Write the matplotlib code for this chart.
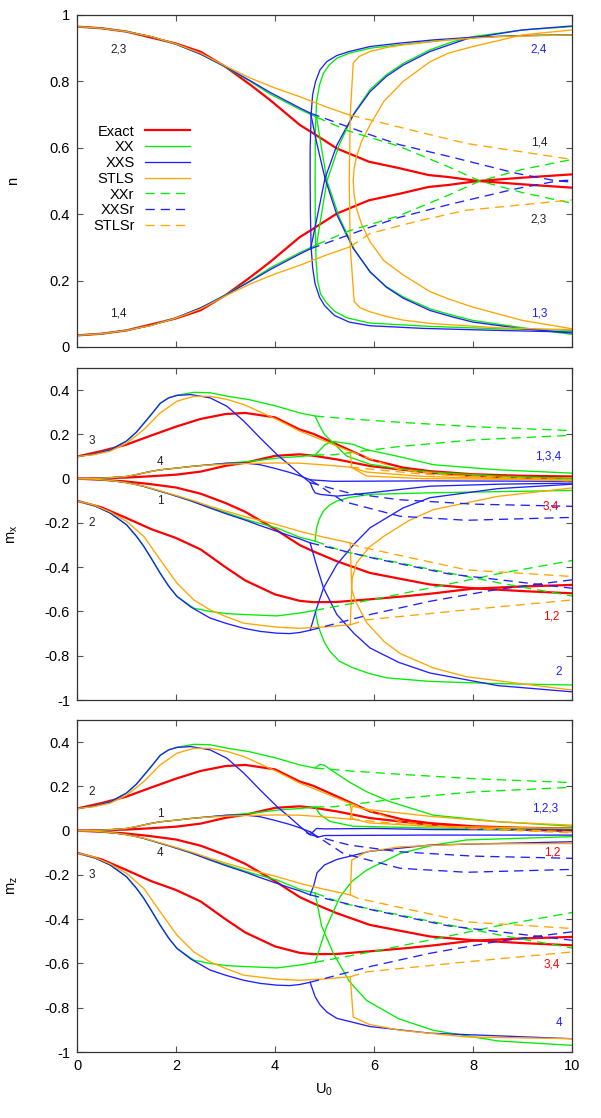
import matplotlib.pyplot as plt
from matplotlib.lines import Line2D
from matplotlib.ticker import FormatStrFormatter

plt.rcParams['font.family'] = ['Liberation Sans', 'DejaVu Sans']
plt.rcParams['mathtext.fontset'] = 'custom'
plt.rcParams['mathtext.rm'] = 'Liberation Sans'
plt.rcParams['mathtext.default'] = 'rm'
plt.rcParams['axes.unicode_minus'] = False

RED, GREEN, BLUE, ORANGE = '#ff0000', '#00ee00', '#2020ff', '#ffa500'

# ---------------- panel 1: n ----------------
u_ex_n = [0, 0.5, 1, 2, 2.5, 3, 3.5, 3.9, 4.5, 4.77, 5.25, 5.9, 6.5, 7.1, 7.5, 8.1, 9, 10]
n_ex_23 = [0.965, 0.96, 0.95, 0.914, 0.889, 0.844, 0.79, 0.744, 0.669, 0.644, 0.598, 0.558, 0.539, 0.518, 0.512, 0.50, 0.49, 0.48]
n_ex_14 = [0.035, 0.04, 0.05, 0.086, 0.111, 0.156, 0.21, 0.256, 0.331, 0.356, 0.402, 0.442, 0.461, 0.482, 0.488, 0.50, 0.51, 0.52]

u_xx_n = [0, 0.5, 1, 1.5, 2, 2.5, 3, 3.5, 3.9, 4.5, 4.84]
n_xx_23 = [0.965, 0.96, 0.95, 0.935, 0.912, 0.882, 0.843, 0.80, 0.762, 0.716, 0.692]
n_xx_14 = [0.035, 0.04, 0.05, 0.065, 0.088, 0.118, 0.157, 0.20, 0.238, 0.284, 0.308]
u_xxs_n = [0, 0.5, 1, 1.5, 2, 2.5, 3, 3.5, 3.9, 4.5, 4.72]
n_xxs_23 = [0.965, 0.96, 0.95, 0.935, 0.912, 0.882, 0.844, 0.802, 0.767, 0.72, 0.704]
n_xxs_14 = [0.035, 0.04, 0.05, 0.065, 0.088, 0.118, 0.156, 0.198, 0.233, 0.28, 0.296]
u_st_n = [0, 0.5, 1, 1.5, 2, 2.5, 3, 3.5, 4, 4.5, 5, 5.52]
n_st_23 = [0.965, 0.96, 0.95, 0.935, 0.913, 0.885, 0.846, 0.81, 0.78, 0.754, 0.725, 0.698]
n_st_14 = [0.035, 0.04, 0.05, 0.065, 0.087, 0.115, 0.154, 0.19, 0.22, 0.246, 0.275, 0.302]

# broken-symmetry branches
n_xx_c = ([10, 9, 8, 7.13, 6.5, 5.92, 5.5, 5.25, 5.1, 4.98, 4.9, 4.84, 4.815, 4.81, 4.815, 4.83, 4.86, 4.92, 5.04, 5.2, 5.45, 5.92, 7.13, 8.5, 10],
          [0.94, 0.938, 0.932, 0.92, 0.91, 0.9, 0.885, 0.87, 0.85, 0.825, 0.79, 0.74, 0.65, 0.5, 0.35, 0.26, 0.2, 0.16, 0.133, 0.108, 0.088, 0.072, 0.062, 0.055, 0.05])
n_xx_dn = ([4.84, 4.95, 5.05, 5.3, 5.6, 5.92, 6.25, 6.6, 7.13, 7.6, 8, 9, 10],
           [0.692, 0.59, 0.5, 0.39, 0.295, 0.225, 0.182, 0.15, 0.115, 0.095, 0.08, 0.058, 0.038])
n_xx_up = ([4.84, 4.95, 5.05, 5.3, 5.6, 5.92, 6.25, 6.6, 7.13, 7.6, 8, 9, 10],
           [0.308, 0.41, 0.5, 0.61, 0.705, 0.775, 0.82, 0.855, 0.895, 0.92, 0.935, 0.955, 0.965])
n_xxs_c = ([10, 9, 8, 7.2, 6.5, 5.92, 5.5, 5.25, 5.05, 4.91, 4.82, 4.76, 4.73, 4.71, 4.71, 4.715, 4.73, 4.76, 4.81, 4.9, 5.0, 5.2, 5.5, 5.92, 7, 8.5, 10],
           [0.94, 0.938, 0.933, 0.925, 0.915, 0.905, 0.89, 0.878, 0.86, 0.835, 0.8, 0.76, 0.7, 0.6, 0.5, 0.4, 0.3, 0.24, 0.19, 0.15, 0.125, 0.095, 0.075, 0.064, 0.056, 0.05, 0.045])
n_xxs_dn = ([4.72, 4.85, 5.01, 5.25, 5.58, 5.92, 6.25, 6.59, 7.13, 7.6, 8, 9, 10],
            [0.704, 0.61, 0.508, 0.398, 0.297, 0.227, 0.18, 0.147, 0.11, 0.09, 0.075, 0.055, 0.042])
n_xxs_up = ([4.72, 4.85, 5.01, 5.25, 5.58, 5.92, 6.25, 6.59, 7.13, 7.87, 9, 10],
            [0.296, 0.39, 0.508, 0.608, 0.699, 0.769, 0.815, 0.849, 0.89, 0.928, 0.955, 0.967])
n_st_top = ([5.52, 5.58, 5.7, 5.92, 6.25, 6.59, 7.5, 8.5, 10], [0.698, 0.855, 0.875, 0.89, 0.902, 0.91, 0.925, 0.935, 0.94])
n_st_bot = ([5.52, 5.5, 5.52, 5.6, 5.72, 5.92, 6.25, 6.59, 7.13, 8.5, 10],
            [0.698, 0.5, 0.302, 0.137, 0.118, 0.106, 0.092, 0.081, 0.071, 0.058, 0.052])
n_st_c = ([10, 9, 8, 7.5, 7.13, 6.59, 6.2, 5.92, 5.75, 5.65, 5.6, 5.58, 5.6, 5.65, 5.75, 5.92, 6.2, 6.59, 7.13, 7.5, 8, 9, 10],
          [0.955, 0.94, 0.905, 0.885, 0.859, 0.80, 0.74, 0.669, 0.62, 0.575, 0.54, 0.5, 0.458, 0.415, 0.37, 0.317, 0.26, 0.217, 0.167, 0.145, 0.12, 0.08, 0.055])

# restricted (symmetric) continuations
u_xxr_n = [4.84, 5.5, 6.5, 7.5, 8.14, 9, 10]
n_xxr_23 = [0.692, 0.65, 0.605, 0.543, 0.5, 0.465, 0.433]
n_xxr_14 = [0.308, 0.35, 0.395, 0.457, 0.5, 0.535, 0.565]
u_xxsr_n = [4.72, 5.85, 6.5, 7.54, 8.88, 9.7, 10]
n_xxsr_23 = [0.704, 0.643, 0.61, 0.573, 0.523, 0.5, 0.497]
n_xxsr_14 = [0.296, 0.357, 0.39, 0.43, 0.477, 0.5, 0.503]
u_str_n = [5.52, 5.92, 6.9, 7.87, 10]
n_str_23 = [0.698, 0.684, 0.648, 0.613, 0.565]
n_str_14 = [0.302, 0.342, 0.38, 0.412, 0.443]

# ---------------- panels 2 and 3: m_x, m_z ----------------
# curves a (starts 0.1, up), b (starts 0, up), c (starts 0, down), d (starts -0.1, down)
u_ex_m = [0, 0.5, 1, 1.5, 2, 2.5, 3, 3.4, 4, 4.5, 4.77, 5.25, 5.92, 6.59, 7.13, 8, 9, 10]
m_ex_a = [0.1, 0.125, 0.154, 0.195, 0.235, 0.27, 0.292, 0.297, 0.277, 0.222, 0.203, 0.155, 0.087, 0.05, 0.034, 0.02, 0.013, 0.01]
m_ex_b = [0, 0.002, 0.005, 0.011, 0.018, 0.032, 0.058, 0.072, 0.103, 0.11, 0.104, 0.087, 0.057, 0.04, 0.027, 0.012, 0.004, -0.002]
m_ex_c = [0, -0.005, -0.013, -0.025, -0.04, -0.068, -0.11, -0.15, -0.228, -0.30, -0.328, -0.373, -0.426, -0.455, -0.478, -0.495, -0.508, -0.518]
m_ex_d = [-0.1, -0.13, -0.178, -0.228, -0.268, -0.32, -0.40, -0.46, -0.523, -0.552, -0.558, -0.557, -0.545, -0.532, -0.52, -0.497, -0.487, -0.48]

u_xx_m = [0, 0.33, 0.67, 1.0, 1.2, 1.35, 1.5, 1.68, 1.85, 2.02, 2.36, 2.69, 3.03, 3.5, 4.04, 4.5, 4.81]
m_xx_a = [0.1, 0.11, 0.13, 0.17, 0.21, 0.25, 0.29, 0.34, 0.365, 0.377, 0.39, 0.388, 0.373, 0.356, 0.327, 0.297, 0.283]
m_xx_b = [0, 0.001, 0.004, 0.01, 0.018, 0.026, 0.033, 0.04, 0.044, 0.048, 0.057, 0.063, 0.07, 0.078, 0.093, 0.1, 0.107]
m_xx_c = [0, -0.002, -0.008, -0.018, -0.027, -0.035, -0.045, -0.057, -0.068, -0.08, -0.105, -0.13, -0.155, -0.19, -0.223, -0.265, -0.282]
m_xx_d = [-0.1, -0.12, -0.155, -0.208, -0.26, -0.306, -0.36, -0.427, -0.485, -0.532, -0.585, -0.6, -0.61, -0.615, -0.62, -0.607, -0.595]

u_xxs_m = [0, 0.33, 0.67, 1.0, 1.2, 1.35, 1.5, 1.68, 1.85, 2.02, 2.3, 2.69, 3.03, 3.37, 3.7, 4.04, 4.3, 4.5, 4.71]
m_xxs_a = [0.1, 0.11, 0.13, 0.17, 0.21, 0.25, 0.29, 0.34, 0.365, 0.376, 0.38, 0.365, 0.327, 0.26, 0.184, 0.109, 0.06, 0.02, -0.018]
m_xxs_b = [0, 0.001, 0.004, 0.01, 0.018, 0.026, 0.033, 0.04, 0.044, 0.048, 0.055, 0.063, 0.07, 0.071, 0.063, 0.044, 0.028, 0.013, -0.005]
m_xxs_c = [0, -0.002, -0.008, -0.018, -0.027, -0.035, -0.045, -0.057, -0.068, -0.08, -0.1, -0.133, -0.16, -0.185, -0.212, -0.238, -0.258, -0.272, -0.29]
m_xxs_d = [-0.1, -0.12, -0.155, -0.208, -0.26, -0.306, -0.36, -0.427, -0.485, -0.532, -0.58, -0.63, -0.655, -0.676, -0.69, -0.698, -0.70, -0.695, -0.685]

u_st_m = [0, 0.33, 0.67, 1.0, 1.35, 1.68, 2.02, 2.36, 2.69, 3.03, 3.37, 4.04, 4.5, 5, 5.52]
m_st_a = [0.1, 0.108, 0.124, 0.16, 0.222, 0.297, 0.35, 0.372, 0.372, 0.358, 0.335, 0.267, 0.215, 0.17, 0.123]
m_st_b = [0, 0.001, 0.004, 0.01, 0.026, 0.04, 0.048, 0.056, 0.062, 0.066, 0.068, 0.071, 0.07, 0.062, 0.052]
m_st_c = [0, -0.002, -0.008, -0.018, -0.034, -0.055, -0.077, -0.1, -0.125, -0.148, -0.17, -0.208, -0.238, -0.265, -0.29]
m_st_d = [-0.1, -0.118, -0.15, -0.193, -0.261, -0.366, -0.472, -0.548, -0.593, -0.625, -0.653, -0.671, -0.676, -0.67, -0.66]

# m_x after the transition
mx_xx_a = ([4.81, 4.9, 5.0, 5.18, 5.45, 5.92, 6.59, 7.13, 8.5, 10], [0.283, 0.24, 0.2, 0.16, 0.102, 0.065, 0.042, 0.03, 0.012, 0.0])
mx_xx_b = ([4.81, 4.91, 5.01, 5.18, 5.58, 5.85, 6.5, 7.2, 8.5, 10], [0.107, 0.13, 0.154, 0.168, 0.155, 0.131, 0.1, 0.063, 0.04, 0.025])
mx_xx_c = ([4.81, 4.84, 4.9, 4.98, 5.1, 5.25, 5.5, 5.92, 7.13, 10], [-0.282, -0.222, -0.18, -0.146, -0.12, -0.101, -0.085, -0.071, -0.064, -0.053])
mx_xx_d = ([4.81, 4.86, 4.91, 5.0, 5.11, 5.3, 5.58, 5.9, 6.26, 7.13, 8.5, 10], [-0.595, -0.65, -0.69, -0.74, -0.78, -0.825, -0.855, -0.88, -0.9, -0.916, -0.926, -0.932])
mx_xxs_a = ([4.71, 4.76, 4.81, 4.91, 5.25, 5.92, 7.13, 8.5, 10], [-0.018, -0.045, -0.064, -0.071, -0.079, -0.064, -0.034, -0.025, -0.02])
mx_xxs_b = ([4.71, 5.18, 7.13, 10], [-0.005, -0.012, -0.01, -0.012])
mx_xxs_c = ([4.71, 4.85, 4.98, 5.25, 5.6, 5.92, 6.5, 7.13, 8.5, 10], [-0.29, -0.4, -0.494, -0.614, -0.7, -0.765, -0.83, -0.878, -0.935, -0.963])
mx_xxs_d = ([4.71, 4.85, 4.98, 5.25, 5.6, 5.92, 6.59, 7.13, 8.5, 10], [-0.685, -0.58, -0.494, -0.388, -0.295, -0.222, -0.132, -0.086, -0.045, -0.025])
mx_st_a = ([5.52, 5.55, 5.85, 7, 10], [0.123, 0.05, 0.012, 0.0, -0.005])
mx_st_b = ([5.52, 5.85, 7, 10], [0.052, 0.03, 0.01, -0.01])
mx_st_c = ([5.52, 5.55, 5.62, 5.85, 6.2, 6.53, 7.2, 7.87, 10], [-0.29, -0.5, -0.55, -0.65, -0.735, -0.79, -0.855, -0.895, -0.955])
mx_st_d = ([5.52, 5.56, 5.65, 5.9, 6.2, 6.7, 7.2, 8.5, 10], [-0.66, -0.45, -0.38, -0.31, -0.26, -0.19, -0.14, -0.08, -0.042])

# m_z after the transition
mz_xx_a = ([4.81, 4.91, 5.0, 5.18, 5.5, 5.85, 6.32, 7.2, 8.55, 10], [0.283, 0.30, 0.295, 0.267, 0.22, 0.176, 0.131, 0.07, 0.04, 0.02])
mz_xx_b = ([4.81, 4.91, 5.11, 5.58, 7.13, 10], [0.107, 0.073, 0.042, 0.02, 0.012, 0.005])
mz_xx_c = ([4.81, 4.94, 5.18, 5.5, 5.85, 6.5, 7.2, 8.5, 10], [-0.282, -0.43, -0.555, -0.68, -0.767, -0.85, -0.902, -0.95, -0.97])
mz_xx_d = ([4.81, 5.04, 5.31, 5.55, 5.85, 6.53, 7.2, 7.87, 10], [-0.595, -0.435, -0.3, -0.23, -0.178, -0.103, -0.065, -0.042, -0.027])
mz_xxs_a = ([4.64, 4.71, 4.84, 5.0, 6, 7.13, 10], [-0.01, -0.018, 0.01, 0.008, 0.01, 0.005, 0.003])
mz_xxs_b = ([4.71, 4.85, 5.0, 7, 10], [-0.005, -0.03, -0.022, -0.02, -0.02])
mz_xxs_c = ([4.71, 4.78, 4.85, 5.0, 5.25, 5.92, 7.13, 10], [-0.29, -0.25, -0.19, -0.155, -0.13, -0.093, -0.065, -0.05])
mz_xxs_d = ([4.71, 4.81, 4.91, 5.05, 5.25, 5.92, 7.13, 10], [-0.685, -0.75, -0.787, -0.82, -0.848, -0.885, -0.915, -0.94])
mz_st_a = ([5.52, 5.56, 5.9, 7.13, 10], [0.123, 0.055, 0.035, 0.02, 0.01])
mz_st_b = ([5.52, 5.56, 5.9, 7.13, 8.5, 10], [0.052, 0.11, 0.095, 0.065, 0.04, 0.025])
mz_st_c = ([5.52, 5.55, 5.85, 6.53, 7.87, 10], [-0.29, -0.133, -0.095, -0.073, -0.06, -0.058])
mz_st_d = ([5.52, 5.58, 5.9, 6.53, 7.87, 10], [-0.66, -0.842, -0.875, -0.902, -0.932, -0.94])

# restricted continuations (same in m_x and m_z)
m_xxr_a = ([4.81, 5.5, 6.5, 8, 10], [0.283, 0.27, 0.255, 0.235, 0.217])
m_xxr_b = ([4.81, 5.18, 6.5, 8, 10], [0.107, 0.108, 0.145, 0.175, 0.196])
m_xxr_c = ([4.81, 5.38, 6.5, 7.2, 8.55, 10], [-0.282, -0.329, -0.38, -0.412, -0.472, -0.53])
m_xxr_d = ([4.81, 6, 7.13, 8.5, 10], [-0.595, -0.545, -0.494, -0.43, -0.37])
m_xxsr_a = ([4.71, 5.5, 6.5, 8, 10], [-0.018, -0.065, -0.095, -0.115, -0.125])
m_xxsr_b = ([4.71, 5.38, 6.53, 7.87, 10], [-0.005, -0.103, -0.17, -0.188, -0.175])
m_xxsr_c = ([4.71, 6, 7.5, 10], [-0.29, -0.36, -0.43, -0.495])
m_xxsr_d = ([4.71, 5.92, 7.13, 8.5, 10], [-0.685, -0.614, -0.554, -0.5, -0.457])
m_str_a = ([5.52, 6.53, 7.87, 10], [0.123, 0.04, 0.01, -0.01])
m_str_b = ([5.52, 7, 10], [0.052, 0.02, -0.005])
m_str_c = ([5.52, 5.68, 7.87, 10], [-0.29, -0.306, -0.412, -0.442])
m_str_d = ([5.52, 5.85, 8, 10], [-0.66, -0.638, -0.59, -0.548])

DASH = (0, (7, 4.5))


def draw(ax, u, v, color, lw=0.95, dashed=False):
    ax.plot(u, v, color=color, lw=lw, linestyle=DASH if dashed else '-',
            solid_joinstyle='round', dash_capstyle='butt')


def style(ax, ylim, yticks):
    ax.set_xlim(0, 10)
    ax.set_ylim(*ylim)
    ax.set_xticks(range(0, 11, 2))
    ax.set_yticks(yticks)
    ax.yaxis.set_major_formatter(FormatStrFormatter('%g'))
    ax.tick_params(direction='in', top=True, right=True, length=4, width=0.8,
                   color='#555555', labelsize=10.5, pad=5)
    for s in ax.spines.values():
        s.set_color('#333333')
        s.set_linewidth(0.9)


fig = plt.figure(figsize=(6.01, 11.18), dpi=100)
W = 1118.0
ax1 = fig.add_axes([77 / 601, (W - 347) / W, 495 / 601, 332 / W])
ax2 = fig.add_axes([77 / 601, (W - 700) / W, 495 / 601, 332 / W])
ax3 = fig.add_axes([77 / 601, (W - 1052) / W, 495 / 601, 332 / W])

# ---- n ----
draw(ax1, u_ex_n, n_ex_23, RED, 1.6)
draw(ax1, u_ex_n, n_ex_14, RED, 1.6)
for curve in [(u_xx_n, n_xx_23), (u_xx_n, n_xx_14), n_xx_c, n_xx_dn, n_xx_up]:
    draw(ax1, *curve, GREEN)
for curve in [(u_xxs_n, n_xxs_23), (u_xxs_n, n_xxs_14), n_xxs_c, n_xxs_dn, n_xxs_up]:
    draw(ax1, *curve, BLUE)
for curve in [(u_st_n, n_st_23), (u_st_n, n_st_14), n_st_top, n_st_bot, n_st_c]:
    draw(ax1, *curve, ORANGE)
draw(ax1, u_xxr_n, n_xxr_23, GREEN, dashed=True)
draw(ax1, u_xxr_n, n_xxr_14, GREEN, dashed=True)
draw(ax1, u_xxsr_n, n_xxsr_23, BLUE, dashed=True)
draw(ax1, u_xxsr_n, n_xxsr_14, BLUE, dashed=True)
draw(ax1, u_str_n, n_str_23, ORANGE, dashed=True)
draw(ax1, u_str_n, n_str_14, ORANGE, dashed=True)
style(ax1, (0, 1), [0, 0.2, 0.4, 0.6, 0.8, 1])
ax1.set_xticklabels([])
ax1.set_ylabel('n', fontsize=10.5)

# ---- m_x and m_z ----
post = {
    ax2: ([mx_xx_a, mx_xx_b, mx_xx_c, mx_xx_d],
          [mx_xxs_a, mx_xxs_b, mx_xxs_c, mx_xxs_d],
          [mx_st_a, mx_st_b, mx_st_c, mx_st_d]),
    ax3: ([mz_xx_a, mz_xx_b, mz_xx_c, mz_xx_d],
          [mz_xxs_a, mz_xxs_b, mz_xxs_c, mz_xxs_d],
          [mz_st_a, mz_st_b, mz_st_c, mz_st_d]),
}
for ax in (ax2, ax3):
    for v in (m_ex_a, m_ex_b, m_ex_c, m_ex_d):
        draw(ax, u_ex_m, v, RED, 1.6)
    xx_post, xxs_post, st_post = post[ax]
    for v in (m_xx_a, m_xx_b, m_xx_c, m_xx_d):
        draw(ax, u_xx_m, v, GREEN)
    for curve in xx_post:
        draw(ax, *curve, GREEN)
    for v in (m_xxs_a, m_xxs_b, m_xxs_c, m_xxs_d):
        draw(ax, u_xxs_m, v, BLUE)
    for curve in xxs_post:
        draw(ax, *curve, BLUE)
    for v in (m_st_a, m_st_b, m_st_c, m_st_d):
        draw(ax, u_st_m, v, ORANGE)
    for curve in st_post:
        draw(ax, *curve, ORANGE)
    for curve in (m_xxr_a, m_xxr_b, m_xxr_c, m_xxr_d):
        draw(ax, *curve, GREEN, dashed=True)
    for curve in (m_xxsr_a, m_xxsr_b, m_xxsr_c, m_xxsr_d):
        draw(ax, *curve, BLUE, dashed=True)
    for curve in (m_str_a, m_str_b, m_str_c, m_str_d):
        draw(ax, *curve, ORANGE, dashed=True)
    style(ax, (-1, 0.5), [-1, -0.8, -0.6, -0.4, -0.2, 0, 0.2, 0.4])

ax2.set_xticklabels([])
ax2.set_ylabel('m$_x$', fontsize=10.5)
ax3.set_ylabel('m$_z$', fontsize=10.5)
ax3.set_xlabel('U$_0$', fontsize=10.5, labelpad=6)
for ax in (ax1, ax2, ax3):
    ax.yaxis.set_label_coords(-0.115, 0.5)

# ---- site labels ----
FS = 8.5
lab = dict(fontsize=FS, ha='center', va='center')
ax1.text(0.83, 0.895, '2,3', color='#222222', **lab)
ax1.text(0.83, 0.102, '1,4', color='#222222', **lab)
ax1.text(9.33, 0.895, '2,4', color=BLUE, **lab)
ax1.text(9.33, 0.617, '1,4', color='#222222', **lab)
ax1.text(9.33, 0.383, '2,3', color='#222222', **lab)
ax1.text(9.33, 0.102, '1,3', color=BLUE, **lab)

ax2.text(0.3, 0.172, '3', color='#222222', **lab)
ax2.text(1.68, 0.077, '4', color='#222222', **lab)
ax2.text(1.68, -0.1, '1', color='#222222', **lab)
ax2.text(0.3, -0.2, '2', color='#222222', **lab)
ax2.text(9.52, 0.1, '1,3,4', color=BLUE, **lab)
ax2.text(9.58, -0.127, '3,4', color=RED, **lab)
ax2.text(9.58, -0.624, '1,2', color=RED, **lab)
ax2.text(9.74, -0.873, '2', color=BLUE, **lab)

ax3.text(0.3, 0.175, '2', color='#222222', **lab)
ax3.text(1.68, 0.076, '1', color='#222222', **lab)
ax3.text(1.68, -0.1, '4', color='#222222', **lab)
ax3.text(0.3, -0.2, '3', color='#222222', **lab)
ax3.text(9.45, 0.1, '1,2,3', color=BLUE, **lab)
ax3.text(9.6, -0.1, '1,2', color=RED, **lab)
ax3.text(9.6, -0.603, '3,4', color=RED, **lab)
ax3.text(9.74, -0.87, '4', color=BLUE, **lab)

# ---- legend ----
handles = [
    Line2D([], [], color=RED, lw=1.6),
    Line2D([], [], color=GREEN, lw=0.95),
    Line2D([], [], color=BLUE, lw=0.95),
    Line2D([], [], color=ORANGE, lw=0.95),
    Line2D([], [], color=GREEN, lw=0.95, linestyle=DASH),
    Line2D([], [], color=BLUE, lw=0.95, linestyle=DASH),
    Line2D([], [], color=ORANGE, lw=0.95, linestyle=DASH),
]
names = ['Exact', 'XX', 'XXS', 'STLS', 'XXr', 'XXSr', 'STLSr']
ax1.legend(handles, names, loc='upper right', bbox_to_anchor=(0.228, 0.67),
           markerfirst=False, frameon=False, fontsize=10.5, handlelength=3.1,
           handletextpad=0.7, labelspacing=0.12, borderpad=0, borderaxespad=0)

fig.savefig('out.png', dpi=100)
